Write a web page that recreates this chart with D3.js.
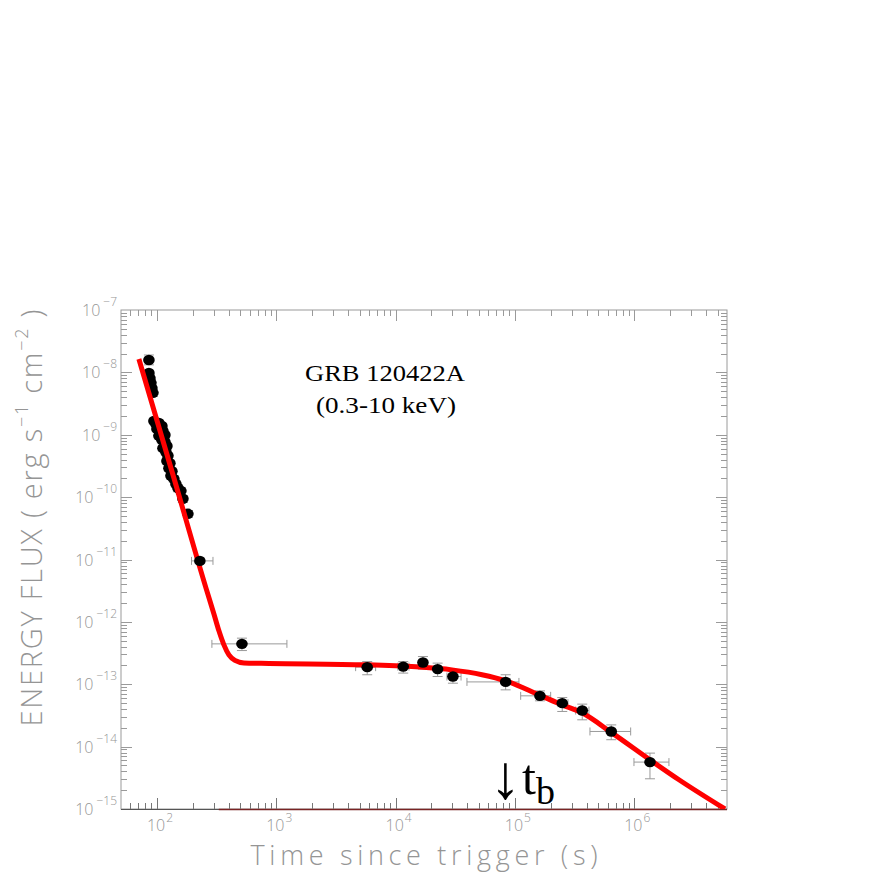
<!DOCTYPE html>
<html><head><meta charset="utf-8">
<script src="https://cdn.jsdelivr.net/npm/d3@7"></script>
<style>body{margin:0;background:#fff}svg{display:block}</style>
</head><body><svg id="c" width="872" height="872"></svg>
<script>
// ---- data ----
const earlyTime = [85.7,85.7,87.4,89.1,90.8,92.6,
 94.4,98.1,103.9,110.1,100,105.9,112.3,116.7,103.9,110.1,116.7,121.3,112.3,119.0,123.7,121.3,128.5,126.1,133.6,131.1,138.8,144.3,150.0,158.9,165.2,181.9];
const earlyFlux = [1.58e-8,9.8e-9,8.1e-9,6.8e-9,5.6e-9,4.7e-9,
 1.66e-9,1.49e-9,1.55e-9,1.38e-9,1.24e-9,1.11e-9,1.15e-9,9.9e-10,9.6e-10,8.3e-10,7.7e-10,6.6e-10,6.1e-10,5.3e-10,4.6e-10,3.8e-10,3.5e-10,2.9e-10,2.6e-10,2.2e-10,1.96e-10,1.63e-10,1.40e-10,1.26e-10,9.4e-11,5.4e-11];
const earlyFluxLo = [1.32e-8,8.9e-9,7.3e-9,6.1e-9,5.0e-9,4.1e-9,
 1.50e-9,1.35e-9,1.40e-9,1.25e-9,1.12e-9,1.00e-9,1.04e-9,8.9e-10,8.6e-10,7.4e-10,6.9e-10,5.9e-10,5.5e-10,4.7e-10,4.1e-10,3.4e-10,3.1e-10,2.6e-10,2.3e-10,1.95e-10,1.74e-10,1.44e-10,1.22e-10,1.10e-10,8.2e-11,4.7e-11];
const earlyFluxHi = [1.90e-8,1.08e-8,9.0e-9,7.5e-9,6.2e-9,5.3e-9,
 1.83e-9,1.64e-9,1.71e-9,1.52e-9,1.37e-9,1.23e-9,1.27e-9,1.10e-9,1.06e-9,9.2e-10,8.5e-10,7.3e-10,6.8e-10,5.9e-10,5.1e-10,4.2e-10,3.9e-10,3.3e-10,2.9e-10,2.45e-10,2.2e-10,1.83e-10,1.58e-10,1.42e-10,1.06e-10,6.1e-11];

const lateTime   = [229,516,5790,11600,16970,22530,30270,83740,162300,249700,367300,642700,1357000];
const lateTimeLo = [195,289,4630,10470,16000,21300,26980,39680,111900,229800,323300,426100,996100];
const lateTimeHi = [295,1229,6810,12950,18000,23800,35400,108200,199600,278700,417900,934900,1957000];
const lateFlux   = [9.5e-12,4.44e-13,1.88e-13,1.92e-13,2.23e-13,1.75e-13,1.33e-13,1.09e-13,6.52e-14,4.98e-14,3.79e-14,1.75e-14,5.65e-15];
const lateFluxLo = [8.6e-12,3.47e-13,1.42e-13,1.51e-13,1.75e-13,1.33e-13,1.04e-13,8.13e-14,5.42e-14,3.66e-14,2.69e-14,1.29e-14,3.05e-15];
const lateFluxHi = [1.05e-11,5.48e-13,2.31e-13,2.31e-13,2.78e-13,2.18e-13,1.60e-13,1.42e-13,7.83e-14,6.12e-14,4.80e-14,2.23e-14,7.87e-15];

const modelTime = [70.6,138.8,257.5,300.5,330.9,364.4,401.3,450.6,536.2,868.5,5649,14830,29700,53000,84230,159200,248200,365100,651500,1357000,2374000,5770000];
const modelFlux = [1.64e-8,2.03e-10,3.51e-12,1.34e-12,7.18e-13,4.28e-13,2.96e-13,2.42e-13,2.20e-13,2.16e-13,2.05e-13,1.90e-13,1.70e-13,1.42e-13,1.13e-13,6.76e-14,4.68e-14,3.48e-14,1.66e-14,6.14e-15,2.94e-15,1.0e-15];

const xTickExps = [2,3,4,5,6];
const yTickExps = [-7,-8,-9,-10,-11,-12,-13,-14,-15];
const xDomain = [50, 6e6];
const yDomain = [1e-15, 1e-7];
const titleLines = ["GRB 120422A","(0.3-10 keV)"];
const redBaseFrom = 330; // time where bottom axis line turns dark red

// ---- layout ----
const L=121, R=727, T=310, B=809;
const svg = d3.select("#c");
const x = d3.scaleLog().domain(xDomain).range([L,R]);
const y = d3.scaleLog().domain(yDomain).range([B,T]);
const gray="#959595", tickGray="#9a9a9a";
const lblFont="'Open Sans','Liberation Sans', Arial, sans-serif";

// frame
svg.append("rect").attr("x",L).attr("y",T).attr("width",R-L).attr("height",B-T)
  .attr("fill","none").attr("stroke",tickGray).attr("stroke-width",1);
svg.append("line").attr("x1",L).attr("x2",R).attr("y1",B+0.5).attr("y2",B+0.5)
  .attr("stroke","#555").attr("stroke-width",1.2);
svg.append("line").attr("x1",x(redBaseFrom)).attr("x2",R).attr("y1",B+0.5).attr("y2",B+0.5)
  .attr("stroke","#7a2424").attr("stroke-width",1.3);

// ticks
const isMajor = v => Math.abs(Math.log10(v)-Math.round(Math.log10(v)))<1e-6;
const xt = x.ticks(); const yt = y.ticks();
const tg = svg.append("g").attr("stroke",tickGray).attr("stroke-width",1);
xt.forEach(v=>{ const px=Math.round(x(v))+0.5, len=isMajor(v)?11:6;
  if(px<=L+1||px>=R-1) return;
  tg.append("line").attr("x1",px).attr("x2",px).attr("y1",T).attr("y2",T+len);
  tg.append("line").attr("x1",px).attr("x2",px).attr("y1",B).attr("y2",B-len).attr("stroke","#777");
});
yt.forEach(v=>{ const py=Math.round(y(v))+0.5, len=isMajor(v)?11:6;
  if(py<=T+1||py>=B-1) return;
  tg.append("line").attr("x1",L).attr("x2",L+len).attr("y1",py).attr("y2",py);
  tg.append("line").attr("x1",R).attr("x2",R-len).attr("y1",py).attr("y2",py);
});

// tick labels
xTickExps.forEach(e=>{ const px=x(Math.pow(10,e));
  const t=svg.append("text").attr("x",px-10).attr("y",831)
    .attr("font-family",lblFont).attr("font-weight",300).attr("fill",gray);
  t.append("tspan").attr("font-size",16).text("10");
  t.append("tspan").attr("font-size",12).attr("dx",1).attr("dy",-9).text(e);
});
yTickExps.forEach(e=>{ const py=y(Math.pow(10,e));
  const t=svg.append("text").attr("x",117).attr("y",py+6).attr("text-anchor","end")
    .attr("font-family",lblFont).attr("font-weight",300).attr("fill",gray);
  t.append("tspan").attr("font-size",16).text("10");
  t.append("tspan").attr("font-size",12).attr("dx",3).attr("dy",-10).text("\u2212"+(-e));
});

// axis titles
svg.append("text").attr("x",424).attr("y",865).attr("text-anchor","middle")
  .attr("font-family",lblFont).attr("font-weight",300).attr("font-size",27).attr("fill",gray)
  .attr("textLength",347).attr("lengthAdjust","spacing")
  .text("Time since trigger (s)");
const yl=svg.append("text").attr("transform","translate(42,518) rotate(-90)")
  .attr("text-anchor","middle").attr("font-family",lblFont).attr("font-weight",300).attr("font-size",29).attr("fill",gray)
  .attr("textLength",417).attr("lengthAdjust","spacing");
yl.append("tspan").text("ENERGY FLUX ( erg s");
yl.append("tspan").attr("font-size",18).attr("dy",-14).text("\u22121");
yl.append("tspan").attr("dy",14).text(" cm");
yl.append("tspan").attr("font-size",18).attr("dy",-14).text("\u22122");
yl.append("tspan").attr("dy",14).text(" )");

// error bars
function errBars(tArr,tLo,tHi,fArr,fLo,fHi){
  const g=svg.append("g").attr("stroke",tickGray).attr("stroke-width",1).attr("fill","none");
  tArr.forEach((t,i)=>{ const px=x(t), py=y(fArr[i]);
    const y1=y(fLo[i]), y2=y(fHi[i]);
    g.append("line").attr("x1",px).attr("x2",px).attr("y1",y1).attr("y2",y2);
    g.append("line").attr("x1",px-5).attr("x2",px+5).attr("y1",y1).attr("y2",y1);
    g.append("line").attr("x1",px-5).attr("x2",px+5).attr("y1",y2).attr("y2",y2);
    if(tLo && tLo[i]!==tHi[i]){ const x1=x(tLo[i]), x2=x(tHi[i]);
      g.append("line").attr("x1",x1).attr("x2",x2).attr("y1",py).attr("y2",py);
      g.append("line").attr("x1",x1).attr("x2",x1).attr("y1",py-4).attr("y2",py+4);
      g.append("line").attr("x1",x2).attr("x2",x2).attr("y1",py-4).attr("y2",py+4);
    }
  });
}
errBars(earlyTime,null,null,earlyFlux,earlyFluxLo,earlyFluxHi);
errBars(lateTime,lateTimeLo,lateTimeHi,lateFlux,lateFluxLo,lateFluxHi);

// early points
svg.append("g").selectAll("ellipse").data(earlyTime).join("ellipse")
  .attr("cx",(d)=>x(d)).attr("cy",(d,i)=>y(earlyFlux[i])).attr("rx",5.8).attr("ry",5.2).attr("fill","#000");

// model curve
svg.append("clipPath").attr("id","clip").append("rect").attr("x",L).attr("y",T).attr("width",R-L).attr("height",B-T);
const line=d3.line().x(d=>x(d[0])).y(d=>y(d[1])).curve(d3.curveMonotoneX);
svg.append("path").datum(modelTime.map((t,i)=>[t,modelFlux[i]])).attr("d",line)
  .attr("clip-path","url(#clip)").attr("fill","none").attr("stroke","#ff0000").attr("stroke-width",5);

// late points
svg.append("g").selectAll("ellipse").data(lateTime).join("ellipse")
  .attr("cx",(d)=>x(d)).attr("cy",(d,i)=>y(lateFlux[i])).attr("rx",5.8).attr("ry",5.2).attr("fill","#000");

// title
const serif="'Liberation Serif','Times New Roman',serif";
svg.append("text").attr("x",385).attr("y",381).attr("text-anchor","middle").attr("font-family",serif)
  .attr("font-size",23).attr("textLength",160).attr("lengthAdjust","spacingAndGlyphs").text(titleLines[0]);
svg.append("text").attr("x",386).attr("y",413).attr("text-anchor","middle").attr("font-family",serif)
  .attr("font-size",23).attr("textLength",140).attr("lengthAdjust","spacingAndGlyphs").text(titleLines[1]);

// t_b annotation
const tb=svg.append("text").attr("x",490).attr("y",796).attr("font-family",serif);
tb.append("tspan").attr("font-size",62).attr("dy",2).text("\u2193");
tb.append("tspan").attr("font-size",50).attr("dx",1).attr("dy",-4).text("t");
tb.append("tspan").attr("font-size",38).attr("dy",10).text("b");
</script></body></html>
